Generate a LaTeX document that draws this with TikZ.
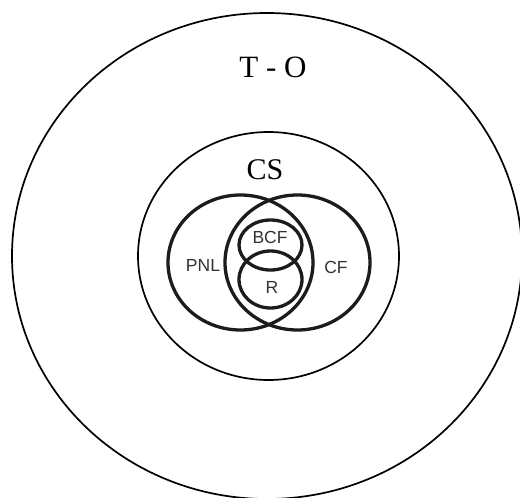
\documentclass[tikz,border=0pt]{standalone}
\usepackage{fontspec}
\setmainfont{Liberation Serif}
\newfontfamily\labelsans{Liberation Sans}
\definecolor{venn}{HTML}{1C1C1C}
\definecolor{vtext}{HTML}{333333}
\begin{document}
\begin{tikzpicture}[x=1pt,y=-1pt,
  thinline/.style={draw=black,line width=1.7pt},
  vennline/.style={draw=venn,line width=3.3pt},
  serlabel/.style={inner sep=0pt,font=\fontsize{31}{31}\selectfont},
  sanslabel/.style={inner sep=0pt,text=vtext,font=\labelsans\fontsize{17.5}{17.5}\selectfont}]
\useasboundingbox (0,0) rectangle (520,498);
\fill[white] (0,0) rectangle (520,498);
\begin{scope}
\clip (0,0) rectangle (520,498);
% outer T-O ellipse
\draw[thinline] (267,256) ellipse [x radius=255, y radius=243];
% CS ellipse
\draw[thinline] (268.5,256) ellipse [x radius=130.5, y radius=124];
% Venn circles
\draw[vennline] (240.5,262.5) ellipse [x radius=72.5, y radius=67.5];
\draw[vennline] (297.5,262.5) ellipse [x radius=72.5, y radius=67.5];
\draw[vennline] (270.5,245) ellipse [x radius=31.5, y radius=25];
\draw[vennline] (270.5,279.5) ellipse [x radius=31.5, y radius=28.5];
\end{scope}
% labels
\node[serlabel] (to) at (273,67) {T - O};
\node[serlabel,font=\fontsize{30}{30}\selectfont] (cs) at (265,170) {CS};
\node[sanslabel] (pnl) at (203,265.5) {PNL};
\node[sanslabel] (bcf) at (270,237) {BCF};
\node[sanslabel] (cf) at (336,267) {CF};
\node[sanslabel] (r) at (272,287) {R};
\end{tikzpicture}
\end{document}
